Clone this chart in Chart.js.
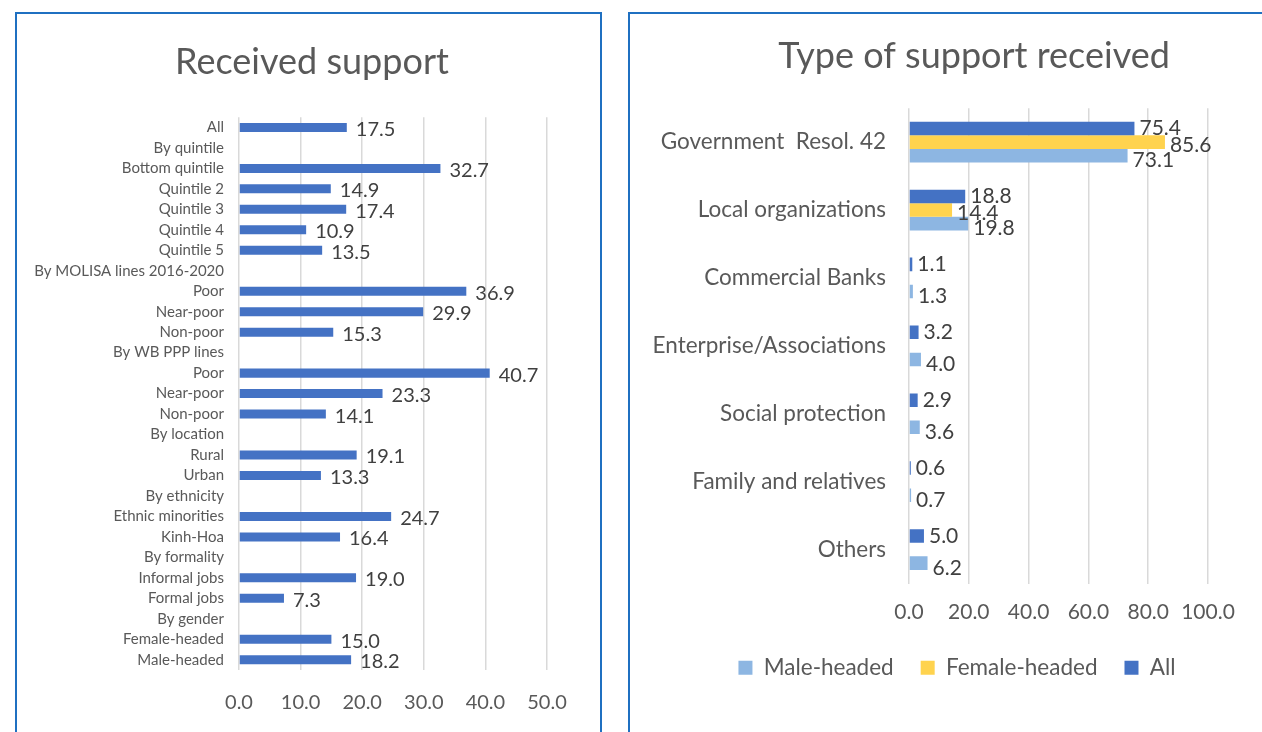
<!DOCTYPE html>
<html>
<head>
<meta charset="utf-8">
<script src="https://cdn.jsdelivr.net/npm/chart.js@4.4.1/dist/chart.umd.min.js"></script>
<style>
  body { margin: 0; background: #fff; overflow: hidden; width: 1262px; height: 732px; position: relative; }
  .box { position: absolute; border: 2px solid #1f70c1; box-sizing: border-box; }
  #box1 { left: 15px; top: 12px; width: 587px; height: 740px; }
  #box2 { left: 628px; top: 12px; width: 700px; height: 740px; }
  canvas { position: absolute; }
  #c1 { left: 17px; top: 14px; }
  #c2 { left: 630px; top: 14px; }
</style>
</head>
<body>
<div class="box" id="box1"></div>
<div class="box" id="box2"></div>
<canvas id="c1" width="583" height="718"></canvas>
<canvas id="c2" width="690" height="718"></canvas>
<script>
// left chart: share of households that received support
const groups = [
  "All", "By quintile", "Bottom quintile", "Quintile 2", "Quintile 3", "Quintile 4", "Quintile 5",
  "By MOLISA lines 2016-2020", "Poor", "Near-poor", "Non-poor",
  "By WB PPP lines", "Poor", "Near-poor", "Non-poor",
  "By location", "Rural", "Urban",
  "By ethnicity", "Ethnic minorities", "Kinh-Hoa",
  "By formality", "Informal jobs", "Formal jobs",
  "By gender", "Female-headed", "Male-headed"
];
const received = [
  17.5, null, 32.7, 14.9, 17.4, 10.9, 13.5,
  null, 36.9, 29.9, 15.3,
  null, 40.7, 23.3, 14.1,
  null, 19.1, 13.3,
  null, 24.7, 16.4,
  null, 19.0, 7.3,
  null, 15.0, 18.2
];

// right chart: type of support received
const supportTypes = [
  "Government  Resol. 42", "Local organizations", "Commercial Banks",
  "Enterprise/Associations", "Social protection", "Family and relatives", "Others"
];
const allHh = [75.4, 18.8, 1.1, 3.2, 2.9, 0.6, 5.0];
const femaleHeaded = [85.6, 14.4, null, null, null, null, null];
const maleHeaded = [73.1, 19.8, 1.3, 4.0, 3.6, 0.7, 6.2];

const FONT = "Lato, 'Open Sans', sans-serif";
const GREY = "#595959";

// draws the value at the end of every bar
const valueLabels = {
  id: "valueLabels",
  afterDatasetsDraw(chart, args, opts) {
    const ctx = chart.ctx;
    ctx.save();
    ctx.font = opts.size + "px " + FONT;
    ctx.fillStyle = "#404040";
    ctx.textBaseline = "middle";
    ctx.textAlign = "left";
    chart.data.datasets.forEach((ds, i) => {
      const dy = opts.dy ? opts.dy[i] : 1;
      chart.getDatasetMeta(i).data.forEach((bar, j) => {
        const v = ds.data[j];
        if (v === null || v === undefined) return;
        ctx.fillText(v.toFixed(1), bar.x + opts.offset, bar.y + dy);
      });
    });
    ctx.restore();
  }
};

// title / legend are centred over the whole box in the original, not the plot
const shiftBoxes = {
  id: "shiftBoxes",
  afterLayout(chart, args, opts) {
    if (opts.title && chart.titleBlock) {
      chart.titleBlock.left += opts.title;
      chart.titleBlock.right += opts.title;
    }
    if (opts.legend && chart.legend) {
      chart.legend.left += opts.legend;
      chart.legend.right += opts.legend;
    }
  }
};

new Chart(document.getElementById("c1"), {
  type: "bar",
  data: {
    labels: groups,
    datasets: [{
      data: received,
      backgroundColor: "#4472c4",
      barPercentage: 0.44,
      categoryPercentage: 1
    }]
  },
  options: {
    responsive: false,
    animation: false,
    indexAxis: "y",
    layout: { padding: { right: 53 } },
    scales: {
      x: {
        min: 0,
        max: 50,
        ticks: {
          stepSize: 10,
          font: { family: FONT, size: 20 },
          color: GREY,
          padding: 21,
          callback: (v) => v.toFixed(1)
        },
        grid: { color: "#d9d9d9", lineWidth: 1.5, drawTicks: false },
        border: { display: false },
        afterFit: (s) => { s.height = 62; }
      },
      y: {
        grid: { display: false, drawTicks: false },
        border: { display: false },
        ticks: {
          autoSkip: false,
          font: { family: FONT, size: 15 },
          color: GREY,
          padding: 15
        },
        afterFit: (s) => { s.width = 222; }
      }
    },
    plugins: {
      legend: { display: false },
      tooltip: { enabled: false },
      title: {
        display: true,
        text: "Received support",
        color: GREY,
        font: { family: FONT, size: 36, weight: "normal" },
        padding: { top: 27, bottom: 33 }
      },
      shiftBoxes: { title: 30 },
      valueLabels: { size: 20, offset: 9, dy: [2] }
    }
  },
  plugins: [valueLabels, shiftBoxes]
});

new Chart(document.getElementById("c2"), {
  type: "bar",
  data: {
    labels: supportTypes,
    datasets: [
      { label: "All", data: allHh, backgroundColor: "#4472c4" },
      { label: "Female-headed", data: femaleHeaded, backgroundColor: "#ffd34e" },
      { label: "Male-headed", data: maleHeaded, backgroundColor: "#8db6e2" }
    ]
  },
  options: {
    responsive: false,
    animation: false,
    indexAxis: "y",
    datasets: { bar: { barPercentage: 1, categoryPercentage: 0.6 } },
    layout: { padding: { right: 112, bottom: 43 } },
    scales: {
      x: {
        min: 0,
        max: 100,
        ticks: {
          stepSize: 20,
          font: { family: FONT, size: 21 },
          color: GREY,
          padding: 16,
          callback: (v) => v.toFixed(1)
        },
        grid: { color: "#d9d9d9", lineWidth: 1.5, drawTicks: false },
        border: { display: false },
        afterFit: (s) => { s.height = 46; }
      },
      y: {
        grid: { display: false, drawTicks: false },
        border: { display: false },
        ticks: {
          font: { family: FONT, size: 22.5 },
          color: GREY,
          padding: 23
        },
        afterFit: (s) => { s.width = 279; }
      }
    },
    plugins: {
      tooltip: { enabled: false },
      title: {
        display: true,
        text: "Type of support received",
        color: GREY,
        font: { family: FONT, size: 36, weight: "normal" },
        padding: { top: 21, bottom: 30 }
      },
      legend: {
        position: "bottom",
        reverse: true,
        labels: {
          font: { family: FONT, size: 22.5 },
          color: GREY,
          boxWidth: 14,
          boxHeight: 14,
          padding: 27
        }
      },
      shiftBoxes: { title: 55, legend: 38 },
      valueLabels: { size: 21, offset: 5, dy: [0, 3, 5] }
    }
  },
  plugins: [valueLabels, shiftBoxes]
});
</script>
</body>
</html>
